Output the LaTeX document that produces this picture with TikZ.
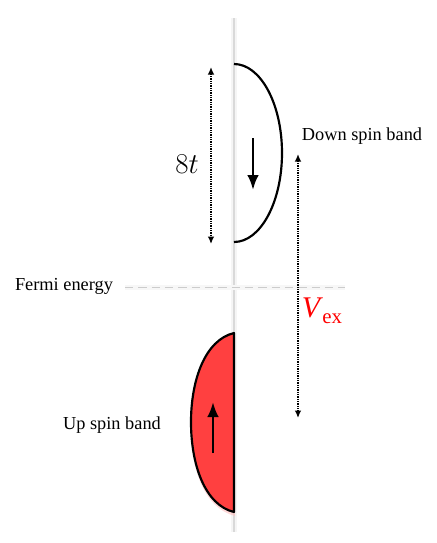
\documentclass[tikz,border=0pt]{standalone}
\usepackage{fontspec}
\setmainfont{Liberation Serif}
\usetikzlibrary{arrows.meta,positioning}

\tikzset{
  band/.style={line width=1.3pt, line join=round},
  spin/.style={line width=1.6pt, -{Latex[length=9pt,width=7pt]}},
  gap/.style={line width=1.1pt, dash pattern=on 0.7pt off 0.7pt, {Latex[length=4.5pt,width=4pt]}-{Latex[length=4.5pt,width=4pt]}},
  lbl/.style={font=\fontsize{11}{13}\selectfont}
}

\begin{document}
\begin{tikzpicture}[x=0.6pt, y=-0.6pt]
   \useasboundingbox (0,0) rectangle (436,543);
   % axis
   \coordinate (axtop) at (234,18);
   \coordinate (axbot) at (234,532);
   \draw[line width=4pt, gray!8] (axtop) -- (axbot);
   \draw[line width=0.7pt, gray!30] (axtop) -- (axbot);
   % fermi level
   \node[lbl] (fermi) at (64,286) {Fermi energy};
   \coordinate (ef1) at (125,287);
   \coordinate (ef2) at (345,287);
   \draw[line width=3pt, gray!6] (ef1) -- (ef2);
   \draw[gray!40, line width=0.6pt, dash pattern=on 5pt off 3pt] (ef1) -- (ef2);
   % down band
   \coordinate (dntop) at (234,64);
   \draw[band] (dntop) arc[start angle=-90, end angle=90, x radius=48, y radius=89];
   \coordinate (dn1) at (253,138);
   \coordinate (dn2) at (253,190);
   \draw[spin] (dn1) -- (dn2);
   \node[lbl] (dnlabel) at (362,136) {Down spin band};
   % up band
   \coordinate (uptop) at (234,333);
   \coordinate (upmid) at (191,422);
   \coordinate (upbot) at (234,512);
   \fill[red!25, opacity=0.6] ([shift={(1,4)}]uptop) .. controls (204,340) and (190,380) .. ([shift={(1,4)}]upmid)
        .. controls (190,468) and (204,508) .. ([shift={(1,4)}]upbot) -- cycle;
   \filldraw[band, fill={rgb,255:red,255;green,64;blue,64}] (uptop) .. controls (205,340) and (191,380) .. (upmid)
        .. controls (191,465) and (205,505) .. (upbot) -- cycle;
   \coordinate (up1) at (213,453);
   \coordinate (up2) at (213,402);
   \draw[spin] (up1) -- (up2);
   \node[lbl] (uplabel) at (112,425) {Up spin band};
   % bandwidth
   \coordinate (w1) at (211,67);
   \coordinate (w2) at (211,244);
   \draw[gap] (w1) -- (w2);
   \node (width) at (187,164) {\fontsize{17}{20}\selectfont$8t$};
   % exchange splitting
   \coordinate (v1) at (298,154);
   \coordinate (v2) at (298,418);
   \draw[gap] (v1) -- (v2);
   \node[red, inner sep=0pt] (vex) at (322,311) {\fontsize{18}{20}\selectfont\textit{V}\kern-0.5pt\raisebox{-0.45ex}{\fontsize{12.5}{14}\selectfont ex}};
\end{tikzpicture}
\end{document}
